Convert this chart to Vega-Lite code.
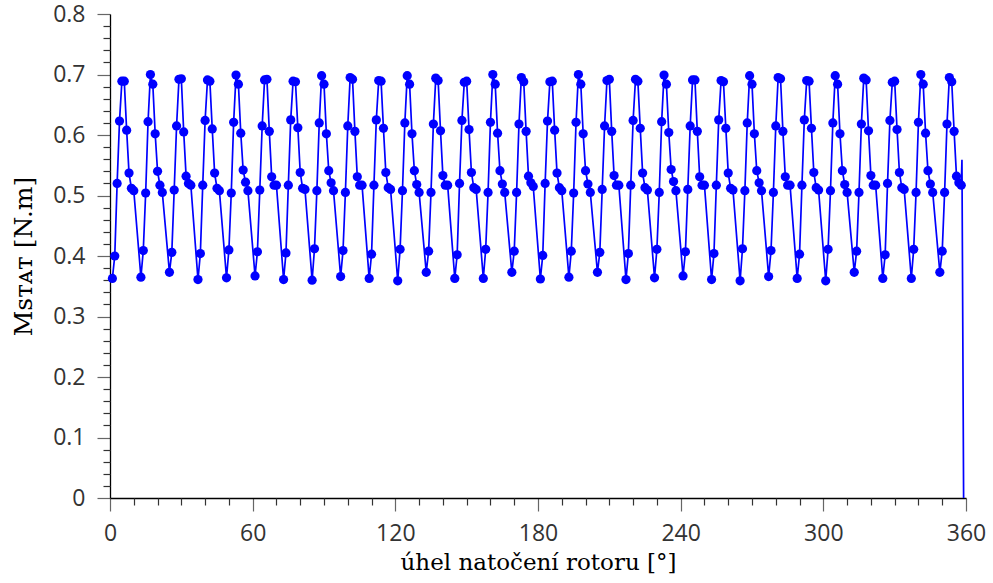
{
  "$schema": "https://vega.github.io/schema/vega-lite/v6.json",
  "autosize": {"type": "none"},
  "width": 856,
  "height": 484,
  "padding": {"left": 110, "top": 14, "right": 27, "bottom": 85},
  "background": "white",
  "config": {"view": {"stroke": null}, "axis": {"grid": false}},
  "datasets": {
    "pts": [
      {"x":1,"y":0.363},{"x":2,"y":0.400},{"x":3,"y":0.520},{"x":4,"y":0.623},{"x":5,"y":0.689},{"x":6,"y":0.689},{"x":7,"y":0.608},{"x":8,"y":0.537},{"x":9,"y":0.512},{"x":10,"y":0.508},
      {"x":13,"y":0.365},{"x":14,"y":0.409},{"x":15,"y":0.504},{"x":16,"y":0.622},{"x":17,"y":0.700},{"x":18,"y":0.684},{"x":19,"y":0.602},{"x":20,"y":0.540},{"x":21,"y":0.517},{"x":22,"y":0.505},
      {"x":25,"y":0.373},{"x":26,"y":0.406},{"x":27,"y":0.509},{"x":28,"y":0.615},{"x":29,"y":0.692},{"x":30,"y":0.693},{"x":31,"y":0.605},{"x":32,"y":0.532},{"x":33,"y":0.520},{"x":34,"y":0.517},
      {"x":37,"y":0.361},{"x":38,"y":0.404},{"x":39,"y":0.517},{"x":40,"y":0.624},{"x":41,"y":0.691},{"x":42,"y":0.689},{"x":43,"y":0.610},{"x":44,"y":0.537},{"x":45,"y":0.512},{"x":46,"y":0.508},
      {"x":49,"y":0.364},{"x":50,"y":0.410},{"x":51,"y":0.504},{"x":52,"y":0.621},{"x":53,"y":0.699},{"x":54,"y":0.684},{"x":55,"y":0.603},{"x":56,"y":0.542},{"x":57,"y":0.522},{"x":58,"y":0.508},
      {"x":61,"y":0.367},{"x":62,"y":0.407},{"x":63,"y":0.509},{"x":64,"y":0.615},{"x":65,"y":0.691},{"x":66,"y":0.692},{"x":67,"y":0.606},{"x":68,"y":0.531},{"x":69,"y":0.517},{"x":70,"y":0.517},
      {"x":73,"y":0.361},{"x":74,"y":0.405},{"x":75,"y":0.517},{"x":76,"y":0.625},{"x":77,"y":0.689},{"x":78,"y":0.688},{"x":79,"y":0.612},{"x":80,"y":0.538},{"x":81,"y":0.512},{"x":82,"y":0.510},
      {"x":85,"y":0.360},{"x":86,"y":0.412},{"x":87,"y":0.508},{"x":88,"y":0.620},{"x":89,"y":0.698},{"x":90,"y":0.684},{"x":91,"y":0.602},{"x":92,"y":0.541},{"x":93,"y":0.521},{"x":94,"y":0.508},
      {"x":97,"y":0.366},{"x":98,"y":0.409},{"x":99,"y":0.505},{"x":100,"y":0.615},{"x":101,"y":0.695},{"x":102,"y":0.692},{"x":103,"y":0.606},{"x":104,"y":0.531},{"x":105,"y":0.517},{"x":106,"y":0.517},
      {"x":109,"y":0.363},{"x":110,"y":0.403},{"x":111,"y":0.517},{"x":112,"y":0.625},{"x":113,"y":0.690},{"x":114,"y":0.689},{"x":115,"y":0.611},{"x":116,"y":0.538},{"x":117,"y":0.513},{"x":118,"y":0.510},
      {"x":121,"y":0.359},{"x":122,"y":0.411},{"x":123,"y":0.508},{"x":124,"y":0.620},{"x":125,"y":0.698},{"x":126,"y":0.684},{"x":127,"y":0.602},{"x":128,"y":0.541},{"x":129,"y":0.518},{"x":130,"y":0.505},
      {"x":133,"y":0.373},{"x":134,"y":0.408},{"x":135,"y":0.505},{"x":136,"y":0.618},{"x":137,"y":0.694},{"x":138,"y":0.690},{"x":139,"y":0.607},{"x":140,"y":0.533},{"x":141,"y":0.517},{"x":142,"y":0.517},
      {"x":145,"y":0.363},{"x":146,"y":0.402},{"x":147,"y":0.520},{"x":148,"y":0.624},{"x":149,"y":0.687},{"x":150,"y":0.689},{"x":151,"y":0.609},{"x":152,"y":0.538},{"x":153,"y":0.513},{"x":154,"y":0.510},
      {"x":157,"y":0.363},{"x":158,"y":0.411},{"x":159,"y":0.505},{"x":160,"y":0.621},{"x":161,"y":0.700},{"x":162,"y":0.684},{"x":163,"y":0.603},{"x":164,"y":0.541},{"x":165,"y":0.519},{"x":166,"y":0.505},
      {"x":169,"y":0.373},{"x":170,"y":0.408},{"x":171,"y":0.505},{"x":172,"y":0.618},{"x":173,"y":0.695},{"x":174,"y":0.688},{"x":175,"y":0.606},{"x":176,"y":0.532},{"x":177,"y":0.521},{"x":178,"y":0.515},
      {"x":181,"y":0.362},{"x":182,"y":0.401},{"x":183,"y":0.520},{"x":184,"y":0.623},{"x":185,"y":0.688},{"x":186,"y":0.689},{"x":187,"y":0.608},{"x":188,"y":0.537},{"x":189,"y":0.513},{"x":190,"y":0.508},
      {"x":193,"y":0.365},{"x":194,"y":0.408},{"x":195,"y":0.504},{"x":196,"y":0.621},{"x":197,"y":0.700},{"x":198,"y":0.684},{"x":199,"y":0.602},{"x":200,"y":0.541},{"x":201,"y":0.519},{"x":202,"y":0.505},
      {"x":205,"y":0.373},{"x":206,"y":0.406},{"x":207,"y":0.510},{"x":208,"y":0.615},{"x":209,"y":0.690},{"x":210,"y":0.692},{"x":211,"y":0.606},{"x":212,"y":0.533},{"x":213,"y":0.517},{"x":214,"y":0.517},
      {"x":217,"y":0.361},{"x":218,"y":0.404},{"x":219,"y":0.517},{"x":220,"y":0.624},{"x":221,"y":0.692},{"x":222,"y":0.689},{"x":223,"y":0.611},{"x":224,"y":0.537},{"x":225,"y":0.513},{"x":226,"y":0.509},
      {"x":229,"y":0.364},{"x":230,"y":0.411},{"x":231,"y":0.505},{"x":232,"y":0.622},{"x":233,"y":0.699},{"x":234,"y":0.684},{"x":235,"y":0.604},{"x":236,"y":0.543},{"x":237,"y":0.523},{"x":238,"y":0.508},
      {"x":241,"y":0.367},{"x":242,"y":0.407},{"x":243,"y":0.510},{"x":244,"y":0.615},{"x":245,"y":0.691},{"x":246,"y":0.691},{"x":247,"y":0.606},{"x":248,"y":0.531},{"x":249,"y":0.517},{"x":250,"y":0.517},
      {"x":253,"y":0.361},{"x":254,"y":0.404},{"x":255,"y":0.517},{"x":256,"y":0.625},{"x":257,"y":0.690},{"x":258,"y":0.688},{"x":259,"y":0.611},{"x":260,"y":0.537},{"x":261,"y":0.512},{"x":262,"y":0.509},
      {"x":265,"y":0.359},{"x":266,"y":0.412},{"x":267,"y":0.508},{"x":268,"y":0.620},{"x":269,"y":0.698},{"x":270,"y":0.684},{"x":271,"y":0.602},{"x":272,"y":0.541},{"x":273,"y":0.521},{"x":274,"y":0.508},
      {"x":277,"y":0.366},{"x":278,"y":0.409},{"x":279,"y":0.505},{"x":280,"y":0.615},{"x":281,"y":0.695},{"x":282,"y":0.693},{"x":283,"y":0.606},{"x":284,"y":0.531},{"x":285,"y":0.517},{"x":286,"y":0.517},
      {"x":289,"y":0.363},{"x":290,"y":0.403},{"x":291,"y":0.517},{"x":292,"y":0.625},{"x":293,"y":0.690},{"x":294,"y":0.689},{"x":295,"y":0.611},{"x":296,"y":0.538},{"x":297,"y":0.513},{"x":298,"y":0.509},
      {"x":301,"y":0.359},{"x":302,"y":0.411},{"x":303,"y":0.508},{"x":304,"y":0.620},{"x":305,"y":0.698},{"x":306,"y":0.684},{"x":307,"y":0.602},{"x":308,"y":0.541},{"x":309,"y":0.518},{"x":310,"y":0.505},
      {"x":313,"y":0.373},{"x":314,"y":0.408},{"x":315,"y":0.505},{"x":316,"y":0.618},{"x":317,"y":0.694},{"x":318,"y":0.691},{"x":319,"y":0.607},{"x":320,"y":0.533},{"x":321,"y":0.517},{"x":322,"y":0.517},
      {"x":325,"y":0.363},{"x":326,"y":0.402},{"x":327,"y":0.520},{"x":328,"y":0.624},{"x":329,"y":0.687},{"x":330,"y":0.689},{"x":331,"y":0.609},{"x":332,"y":0.538},{"x":333,"y":0.513},{"x":334,"y":0.510},
      {"x":337,"y":0.363},{"x":338,"y":0.411},{"x":339,"y":0.505},{"x":340,"y":0.621},{"x":341,"y":0.700},{"x":342,"y":0.684},{"x":343,"y":0.603},{"x":344,"y":0.541},{"x":345,"y":0.519},{"x":346,"y":0.505},
      {"x":349,"y":0.373},{"x":350,"y":0.408},{"x":351,"y":0.505},{"x":352,"y":0.618},{"x":353,"y":0.695},{"x":354,"y":0.688},{"x":355,"y":0.606},{"x":356,"y":0.532},{"x":357,"y":0.521},{"x":358,"y":0.517}
    ],
    "tail": [
      {"x":358,"y":0.517},{"x":358.3,"y":0.559},{"x":359,"y":0}
    ]
  },
  "layer": [
    {
      "data": {"name": "pts"},
      "mark": {"type": "line", "color": "#0000ff", "strokeWidth": 1.7},
      "encoding": {
        "x": {"field": "x", "type": "quantitative", "scale": {"domain": [0, 360], "nice": false},
          "axis": {"orient": "bottom", "values": [0, 60, 120, 180, 240, 300, 360], "format": "d", "tickSize": 13, "tickColor": "#666", "tickWidth": 1.2, "domainColor": "#000", "domainWidth": 1.3,
            "labelFont": "Open Sans", "labelFontSize": 23, "labelColor": "#333", "labelPadding": 11, "labelFlush": false,
            "title": "úhel natočení rotoru [°]", "titleFont": "DejaVu Serif", "titleFontSize": 23, "titleFontWeight": "normal", "titleColor": "#000", "titlePadding": 6}},
        "y": {"field": "y", "type": "quantitative", "scale": {"domain": [0, 0.8], "nice": false, "zero": true},
          "axis": {"orient": "left", "values": [0, 0.1, 0.2, 0.3, 0.4, 0.5, 0.6, 0.7, 0.8], "format": "~g", "tickSize": 13, "tickColor": "#666", "tickWidth": 1.2, "domainColor": "#000", "domainWidth": 1.3,
            "labelFont": "Open Sans", "labelFontSize": 23, "labelColor": "#333", "labelPadding": 12, "labelFlush": false,
            "title": "Mꜱᴛᴀᴛ [N.m]", "titleFont": "DejaVu Serif", "titleFontSize": 25, "titleFontWeight": "normal", "titleColor": "#000", "titlePadding": 16}}
      }
    },
    {
      "data": {"name": "tail"},
      "mark": {"type": "line", "color": "#0000ff", "strokeWidth": 1.7},
      "encoding": {
        "x": {"field": "x", "type": "quantitative", "axis": null},
        "y": {"field": "y", "type": "quantitative", "axis": null}
      }
    },
    {
      "data": {"name": "pts"},
      "mark": {"type": "point", "filled": true, "color": "#0000ff", "opacity": 1, "size": 85},
      "encoding": {
        "x": {"field": "x", "type": "quantitative",
          "axis": {"orient": "bottom", "values": [10,20,30,40,50,70,80,90,100,110,130,140,150,160,170,190,200,210,220,230,250,260,270,280,290,310,320,330,340,350], "tickSize": 7, "tickColor": "#333", "tickWidth": 1.2, "labels": false, "domain": false, "title": null}},
        "y": {"field": "y", "type": "quantitative",
          "axis": {"orient": "left", "values": [0.02,0.04,0.06,0.08,0.12,0.14,0.16,0.18,0.22,0.24,0.26,0.28,0.32,0.34,0.36,0.38,0.42,0.44,0.46,0.48,0.52,0.54,0.56,0.58,0.62,0.64,0.66,0.68,0.72,0.74,0.76,0.78], "tickSize": 7, "tickColor": "#333", "tickWidth": 1.2, "labels": false, "domain": false, "title": null}}
      }
    }
  ],
  "resolve": {"axis": {"x": "independent", "y": "independent"}}
}
